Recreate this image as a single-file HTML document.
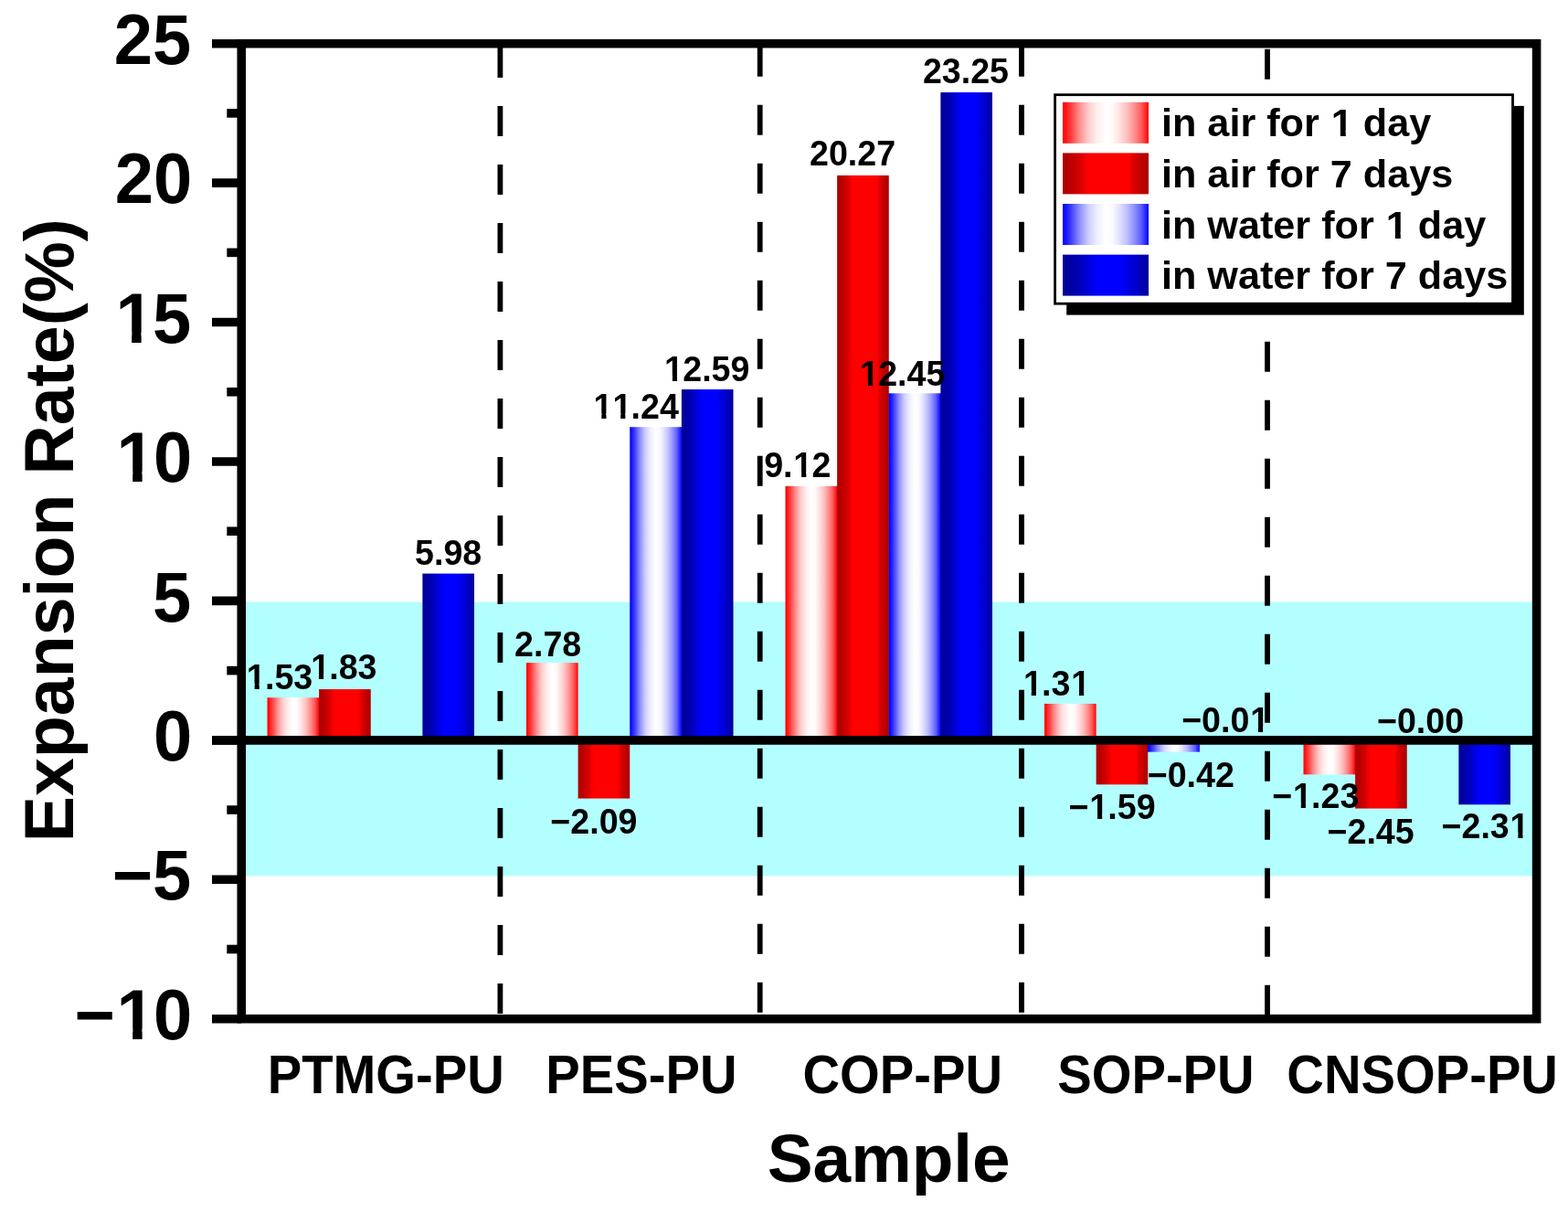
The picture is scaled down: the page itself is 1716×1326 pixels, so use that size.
<!DOCTYPE html><html><head><meta charset="utf-8"><title>Expansion Rate</title>
<style>html,body{margin:0;padding:0;background:#fff;}svg{display:block;}</style></head><body>
<svg width="1716" height="1326" viewBox="0 0 1716 1326">
<defs>
<linearGradient id="g1" x1="0" y1="0" x2="1" y2="0"><stop offset="0.000" stop-color="rgb(255,0,0)"/><stop offset="0.030" stop-color="rgb(255,15,15)"/><stop offset="0.100" stop-color="rgb(255,65,65)"/><stop offset="0.200" stop-color="rgb(255,145,145)"/><stop offset="0.300" stop-color="rgb(255,205,205)"/><stop offset="0.400" stop-color="rgb(255,238,238)"/><stop offset="0.500" stop-color="rgb(255,255,255)"/><stop offset="0.580" stop-color="rgb(255,250,250)"/><stop offset="0.660" stop-color="rgb(255,225,225)"/><stop offset="0.750" stop-color="rgb(255,190,190)"/><stop offset="0.830" stop-color="rgb(255,145,145)"/><stop offset="0.910" stop-color="rgb(255,95,95)"/><stop offset="0.970" stop-color="rgb(255,35,35)"/><stop offset="1.000" stop-color="rgb(255,0,0)"/></linearGradient>
<linearGradient id="g2" x1="0" y1="0" x2="1" y2="0"><stop offset="0.000" stop-color="rgb(172,0,0)"/><stop offset="0.060" stop-color="rgb(180,0,0)"/><stop offset="0.130" stop-color="rgb(195,0,0)"/><stop offset="0.200" stop-color="rgb(215,0,0)"/><stop offset="0.260" stop-color="rgb(240,0,0)"/><stop offset="0.300" stop-color="rgb(255,0,0)"/><stop offset="0.770" stop-color="rgb(255,0,0)"/><stop offset="0.810" stop-color="rgb(225,0,0)"/><stop offset="0.890" stop-color="rgb(200,0,0)"/><stop offset="0.960" stop-color="rgb(180,0,0)"/><stop offset="1.000" stop-color="rgb(172,0,0)"/></linearGradient>
<linearGradient id="g3" x1="0" y1="0" x2="1" y2="0"><stop offset="0.000" stop-color="rgb(0,0,255)"/><stop offset="0.030" stop-color="rgb(15,15,255)"/><stop offset="0.100" stop-color="rgb(65,65,255)"/><stop offset="0.200" stop-color="rgb(145,145,255)"/><stop offset="0.300" stop-color="rgb(205,205,255)"/><stop offset="0.400" stop-color="rgb(238,238,255)"/><stop offset="0.500" stop-color="rgb(255,255,255)"/><stop offset="0.580" stop-color="rgb(250,250,255)"/><stop offset="0.660" stop-color="rgb(225,225,255)"/><stop offset="0.750" stop-color="rgb(190,190,255)"/><stop offset="0.830" stop-color="rgb(145,145,255)"/><stop offset="0.910" stop-color="rgb(95,95,255)"/><stop offset="0.970" stop-color="rgb(35,35,255)"/><stop offset="1.000" stop-color="rgb(0,0,255)"/></linearGradient>
<linearGradient id="g4" x1="0" y1="0" x2="1" y2="0"><stop offset="0.000" stop-color="rgb(0,0,150)"/><stop offset="0.110" stop-color="rgb(0,0,165)"/><stop offset="0.210" stop-color="rgb(0,0,190)"/><stop offset="0.310" stop-color="rgb(0,0,225)"/><stop offset="0.400" stop-color="rgb(0,0,255)"/><stop offset="0.670" stop-color="rgb(0,0,255)"/><stop offset="0.750" stop-color="rgb(0,0,230)"/><stop offset="0.870" stop-color="rgb(0,0,200)"/><stop offset="1.000" stop-color="rgb(0,0,150)"/></linearGradient>
</defs>
<rect x="0" y="0" width="1716" height="1326" fill="#fff"/>
<rect x="264.25" y="658.6" width="1417.35" height="299.69999999999993" fill="#B3FFFF"/>
<line x1="547.4" y1="52" x2="547.4" y2="1110" stroke="#000" stroke-width="5.8" stroke-dasharray="33 31"/>
<line x1="831.7" y1="50.7" x2="831.7" y2="1110" stroke="#000" stroke-width="5.8" stroke-dasharray="33 31"/>
<line x1="1118" y1="50.7" x2="1118" y2="1110" stroke="#000" stroke-width="5.8" stroke-dasharray="33 31"/>
<line x1="1387" y1="53.7" x2="1387" y2="1110" stroke="#000" stroke-width="5.8" stroke-dasharray="33 31"/>
<rect x="348.625" y="763.21" width="1.2" height="46.64" fill="rgb(255,0,0)"/>
<rect x="292.500" y="763.21" width="56.625" height="46.64" fill="url(#g1)"/>
<rect x="349.125" y="754.06" width="56.625" height="55.79" fill="url(#g2)"/>
<rect x="462.375" y="627.54" width="56.625" height="182.31" fill="url(#g4)"/>
<rect x="576.000" y="725.10" width="56.625" height="84.75" fill="url(#g1)"/>
<rect x="632.625" y="809.85" width="56.625" height="63.72" fill="url(#g2)"/>
<rect x="745.375" y="467.19" width="1.2" height="342.66" fill="rgb(0,0,255)"/>
<rect x="689.250" y="467.19" width="56.625" height="342.66" fill="url(#g3)"/>
<rect x="745.875" y="426.03" width="56.625" height="383.82" fill="url(#g4)"/>
<rect x="915.625" y="531.82" width="1.2" height="278.03" fill="rgb(255,0,0)"/>
<rect x="859.500" y="531.82" width="56.625" height="278.03" fill="url(#g1)"/>
<rect x="972.250" y="430.30" width="1.2" height="379.55" fill="rgb(172,0,0)"/>
<rect x="916.125" y="191.90" width="56.625" height="617.95" fill="url(#g2)"/>
<rect x="1028.875" y="430.30" width="1.2" height="379.55" fill="rgb(0,0,255)"/>
<rect x="972.750" y="430.30" width="56.625" height="379.55" fill="url(#g3)"/>
<rect x="1029.375" y="101.05" width="56.625" height="708.80" fill="url(#g4)"/>
<rect x="1143.000" y="769.91" width="56.625" height="39.94" fill="url(#g1)"/>
<rect x="1255.750" y="809.85" width="1.2" height="12.80" fill="rgb(172,0,0)"/>
<rect x="1199.625" y="809.85" width="56.625" height="48.47" fill="url(#g2)"/>
<rect x="1256.250" y="809.85" width="56.625" height="12.80" fill="url(#g3)"/>
<rect x="1312.875" y="809.85" width="56.625" height="0.30" fill="url(#g4)"/>
<rect x="1482.625" y="809.85" width="1.2" height="37.50" fill="rgb(255,0,0)"/>
<rect x="1426.500" y="809.85" width="56.625" height="37.50" fill="url(#g1)"/>
<rect x="1483.125" y="809.85" width="56.625" height="74.69" fill="url(#g2)"/>
<rect x="1596.375" y="809.85" width="56.625" height="70.42" fill="url(#g4)"/>
<line x1="232" y1="809.85" x2="1681.6" y2="809.85" stroke="#000" stroke-width="9.8"/>
<rect x="264.25" y="47.7" width="1417.35" height="1067.0" fill="none" stroke="#000" stroke-width="9.6" stroke-linejoin="miter"/>
<line x1="232" y1="1114.71" x2="264.25" y2="1114.71" stroke="#000" stroke-width="9.6"/>
<line x1="232" y1="962.28" x2="264.25" y2="962.28" stroke="#000" stroke-width="9.6"/>
<line x1="232" y1="809.85" x2="264.25" y2="809.85" stroke="#000" stroke-width="9.6"/>
<line x1="232" y1="657.42" x2="264.25" y2="657.42" stroke="#000" stroke-width="9.6"/>
<line x1="232" y1="504.99" x2="264.25" y2="504.99" stroke="#000" stroke-width="9.6"/>
<line x1="232" y1="352.56" x2="264.25" y2="352.56" stroke="#000" stroke-width="9.6"/>
<line x1="232" y1="200.13" x2="264.25" y2="200.13" stroke="#000" stroke-width="9.6"/>
<line x1="232" y1="47.70" x2="264.25" y2="47.70" stroke="#000" stroke-width="9.6"/>
<line x1="248.3" y1="1038.50" x2="264.25" y2="1038.50" stroke="#000" stroke-width="9.6"/>
<line x1="248.3" y1="886.07" x2="264.25" y2="886.07" stroke="#000" stroke-width="9.6"/>
<line x1="248.3" y1="733.63" x2="264.25" y2="733.63" stroke="#000" stroke-width="9.6"/>
<line x1="248.3" y1="581.21" x2="264.25" y2="581.21" stroke="#000" stroke-width="9.6"/>
<line x1="248.3" y1="428.78" x2="264.25" y2="428.78" stroke="#000" stroke-width="9.6"/>
<line x1="248.3" y1="276.35" x2="264.25" y2="276.35" stroke="#000" stroke-width="9.6"/>
<line x1="248.3" y1="123.91" x2="264.25" y2="123.91" stroke="#000" stroke-width="9.6"/>
<text transform="translate(81.40 1136.91) scale(1 1.0200)" font-family="Liberation Sans, Arial, sans-serif" font-weight="bold" style="font-kerning:none" font-size="76.00" clip-path="url(#c1)" >−<tspan dx="1.67">1</tspan><tspan dx="-1.67">0</tspan></text>
<text transform="translate(122.66 984.48) scale(1 1.0200)" font-family="Liberation Sans, Arial, sans-serif" font-weight="bold" style="font-kerning:none" font-size="76.00" >−5</text>
<text transform="translate(168.05 832.05) scale(1 1.0200)" font-family="Liberation Sans, Arial, sans-serif" font-weight="bold" style="font-kerning:none" font-size="76.00" >0</text>
<text transform="translate(167.05 679.62) scale(1 1.0200)" font-family="Liberation Sans, Arial, sans-serif" font-weight="bold" style="font-kerning:none" font-size="76.00" >5</text>
<text transform="translate(125.78 527.19) scale(1 1.0200)" font-family="Liberation Sans, Arial, sans-serif" font-weight="bold" style="font-kerning:none" font-size="76.00" clip-path="url(#c2)" ><tspan dx="1.67">1</tspan><tspan dx="-1.67">0</tspan></text>
<text transform="translate(124.78 374.76) scale(1 1.0200)" font-family="Liberation Sans, Arial, sans-serif" font-weight="bold" style="font-kerning:none" font-size="76.00" clip-path="url(#c3)" ><tspan dx="1.67">1</tspan><tspan dx="-1.67">5</tspan></text>
<text transform="translate(125.78 222.33) scale(1 1.0200)" font-family="Liberation Sans, Arial, sans-serif" font-weight="bold" style="font-kerning:none" font-size="76.00" >20</text>
<text transform="translate(124.78 69.90) scale(1 1.0200)" font-family="Liberation Sans, Arial, sans-serif" font-weight="bold" style="font-kerning:none" font-size="76.00" >25</text>
<text transform="translate(269.04 753.50) scale(1 1.0300)" font-family="Liberation Sans, Arial, sans-serif" font-weight="bold" style="font-kerning:none" font-size="37.60" clip-path="url(#c4)" ><tspan dx="0.83">1</tspan><tspan dx="-0.83">.</tspan>53</text>
<text transform="translate(339.34 743.20) scale(1 1.0300)" font-family="Liberation Sans, Arial, sans-serif" font-weight="bold" style="font-kerning:none" font-size="37.60" clip-path="url(#c5)" ><tspan dx="0.83">1</tspan><tspan dx="-0.83">.</tspan>83</text>
<text transform="translate(454.11 617.70) scale(1 1.0300)" font-family="Liberation Sans, Arial, sans-serif" font-weight="bold" style="font-kerning:none" font-size="37.60" >5.98</text>
<text transform="translate(563.09 718.10) scale(1 1.0300)" font-family="Liberation Sans, Arial, sans-serif" font-weight="bold" style="font-kerning:none" font-size="37.60" >2.78</text>
<text transform="translate(602.35 912.30) scale(1 1.0300)" font-family="Liberation Sans, Arial, sans-serif" font-weight="bold" style="font-kerning:none" font-size="37.60" >−2.09</text>
<text transform="translate(648.71 458.00) scale(1 1.0300)" font-family="Liberation Sans, Arial, sans-serif" font-weight="bold" style="font-kerning:none" font-size="37.60" clip-path="url(#c6)" ><tspan dx="0.83">1</tspan><tspan dx="0.00">1</tspan><tspan dx="-0.83">.</tspan>24</text>
<text transform="translate(726.30 416.50) scale(1 1.0300)" font-family="Liberation Sans, Arial, sans-serif" font-weight="bold" style="font-kerning:none" font-size="37.60" clip-path="url(#c7)" ><tspan dx="0.83">1</tspan><tspan dx="-0.83">2</tspan>.59</text>
<text transform="translate(836.16 522.10) scale(1 1.0300)" font-family="Liberation Sans, Arial, sans-serif" font-weight="bold" style="font-kerning:none" font-size="37.60" clip-path="url(#c8)" >9.<tspan dx="0.83">1</tspan><tspan dx="-0.83">2</tspan></text>
<text transform="translate(886.03 181.00) scale(1 1.0300)" font-family="Liberation Sans, Arial, sans-serif" font-weight="bold" style="font-kerning:none" font-size="37.60" >20.27</text>
<text transform="translate(940.28 422.30) scale(1 1.0300)" font-family="Liberation Sans, Arial, sans-serif" font-weight="bold" style="font-kerning:none" font-size="37.60" clip-path="url(#c9)" ><tspan dx="0.83">1</tspan><tspan dx="-0.83">2</tspan>.45</text>
<text transform="translate(1009.93 91.20) scale(1 1.0300)" font-family="Liberation Sans, Arial, sans-serif" font-weight="bold" style="font-kerning:none" font-size="37.60" >23.25</text>
<text transform="translate(1119.14 760.60) scale(1 1.0300)" font-family="Liberation Sans, Arial, sans-serif" font-weight="bold" style="font-kerning:none" font-size="37.60" clip-path="url(#c10)" ><tspan dx="0.83">1</tspan><tspan dx="-0.83">.</tspan>3<tspan dx="0.83">1</tspan></text>
<text transform="translate(1293.13 800.70) scale(1 1.0300)" font-family="Liberation Sans, Arial, sans-serif" font-weight="bold" style="font-kerning:none" font-size="37.60" clip-path="url(#c11)" >−0.0<tspan dx="0.83">1</tspan></text>
<text transform="translate(1255.70 861.30) scale(1 1.0300)" font-family="Liberation Sans, Arial, sans-serif" font-weight="bold" style="font-kerning:none" font-size="37.60" >−0.42</text>
<text transform="translate(1169.45 896.30) scale(1 1.0300)" font-family="Liberation Sans, Arial, sans-serif" font-weight="bold" style="font-kerning:none" font-size="37.60" clip-path="url(#c12)" >−<tspan dx="0.83">1</tspan><tspan dx="-0.83">.</tspan>59</text>
<text transform="translate(1506.97 801.50) scale(1 1.0300)" font-family="Liberation Sans, Arial, sans-serif" font-weight="bold" style="font-kerning:none" font-size="37.60" >−0.00</text>
<text transform="translate(1392.23 883.70) scale(1 1.0300)" font-family="Liberation Sans, Arial, sans-serif" font-weight="bold" style="font-kerning:none" font-size="37.60" clip-path="url(#c13)" >−<tspan dx="0.83">1</tspan><tspan dx="-0.83">.</tspan>23</text>
<text transform="translate(1452.52 922.50) scale(1 1.0300)" font-family="Liberation Sans, Arial, sans-serif" font-weight="bold" style="font-kerning:none" font-size="37.60" >−2.45</text>
<text transform="translate(1577.53 917.20) scale(1 1.0300)" font-family="Liberation Sans, Arial, sans-serif" font-weight="bold" style="font-kerning:none" font-size="37.60" clip-path="url(#c14)" >−2.3<tspan dx="0.83">1</tspan></text>
<text transform="translate(292.72 1196.10) scale(1 1.0400)" font-family="Liberation Sans, Arial, sans-serif" font-weight="bold" style="font-kerning:none" font-size="56.20" >PTMG-PU</text>
<text transform="translate(597.36 1196.10) scale(1 1.0400)" font-family="Liberation Sans, Arial, sans-serif" font-weight="bold" style="font-kerning:none" font-size="56.20" >PES-PU</text>
<text transform="translate(878.48 1196.10) scale(1 1.0400)" font-family="Liberation Sans, Arial, sans-serif" font-weight="bold" style="font-kerning:none" font-size="56.20" >COP-PU</text>
<text transform="translate(1157.22 1196.10) scale(1 1.0400)" font-family="Liberation Sans, Arial, sans-serif" font-weight="bold" style="font-kerning:none" font-size="56.20" >SOP-PU</text>
<text transform="translate(1408.34 1196.10) scale(1 1.0400)" font-family="Liberation Sans, Arial, sans-serif" font-weight="bold" style="font-kerning:none" font-size="56.20" >CNSOP-PU</text>
<text transform="translate(839.75 1293.40) scale(1 1.0000)" font-family="Liberation Sans, Arial, sans-serif" font-weight="bold" style="font-kerning:none" font-size="74.78" >Sample</text>
<text transform="translate(79.9 921.24) rotate(-90)" font-family="Liberation Sans, Arial, sans-serif" font-weight="bold" style="font-kerning:none" font-size="75.31">Expansion Rate(%)</text>
<rect x="1167.2" y="115.9" width="500.6" height="228.7" fill="#000"/>
<rect x="1154.6" y="103.7" width="500.9" height="228.5" fill="#fff" stroke="#000" stroke-width="2.8"/>
<rect x="1163" y="111.8" width="94" height="45" fill="url(#g1)"/>
<text transform="translate(1270.98 149.30) scale(1 1.0000)" font-family="Liberation Sans, Arial, sans-serif" font-weight="bold" style="font-kerning:none" font-size="43.20" clip-path="url(#c15)" >in air for <tspan dx="0.95">1</tspan><tspan dx="-0.95"> </tspan>day</text>
<rect x="1163" y="167.4" width="94" height="45" fill="url(#g2)"/>
<text transform="translate(1270.98 204.90) scale(1 1.0000)" font-family="Liberation Sans, Arial, sans-serif" font-weight="bold" style="font-kerning:none" font-size="43.20" >in air for 7 days</text>
<rect x="1163" y="223.0" width="94" height="45" fill="url(#g3)"/>
<text transform="translate(1270.98 260.50) scale(1 1.0000)" font-family="Liberation Sans, Arial, sans-serif" font-weight="bold" style="font-kerning:none" font-size="43.20" clip-path="url(#c16)" >in water for <tspan dx="0.95">1</tspan><tspan dx="-0.95"> </tspan>day</text>
<rect x="1163" y="278.6" width="94" height="45" fill="url(#g4)"/>
<text transform="translate(1270.98 316.10) scale(1 1.0000)" font-family="Liberation Sans, Arial, sans-serif" font-weight="bold" style="font-kerning:none" font-size="43.20" >in water for 7 days</text>
<defs><clipPath id="c1" clipPathUnits="userSpaceOnUse"><path clip-rule="evenodd" d="M-76.00 -152.00H204.92V76.00H-76.00ZM49.17 -11.13H63.79V2.23H49.17ZM74.22 -11.13H87.88V2.23H74.22Z"/></clipPath><clipPath id="c2" clipPathUnits="userSpaceOnUse"><path clip-rule="evenodd" d="M-76.00 -152.00H160.54V76.00H-76.00ZM4.79 -11.13H19.41V2.23H4.79ZM29.84 -11.13H43.49V2.23H29.84Z"/></clipPath><clipPath id="c3" clipPathUnits="userSpaceOnUse"><path clip-rule="evenodd" d="M-76.00 -152.00H160.54V76.00H-76.00ZM4.79 -11.13H19.41V2.23H4.79ZM29.84 -11.13H43.49V2.23H29.84Z"/></clipPath><clipPath id="c4" clipPathUnits="userSpaceOnUse"><path clip-rule="evenodd" d="M-37.60 -75.20H110.78V37.60H-37.60ZM2.37 -5.51H9.60V1.10H2.37ZM14.76 -5.51H21.52V1.10H14.76Z"/></clipPath><clipPath id="c5" clipPathUnits="userSpaceOnUse"><path clip-rule="evenodd" d="M-37.60 -75.20H110.78V37.60H-37.60ZM2.37 -5.51H9.60V1.10H2.37ZM14.76 -5.51H21.52V1.10H14.76Z"/></clipPath><clipPath id="c6" clipPathUnits="userSpaceOnUse"><path clip-rule="evenodd" d="M-37.60 -75.20H131.69V37.60H-37.60ZM2.37 -5.51H9.60V1.10H2.37ZM14.76 -5.51H21.52V1.10H14.76ZM23.28 -5.51H30.51V1.10H23.28ZM35.67 -5.51H42.43V1.10H35.67Z"/></clipPath><clipPath id="c7" clipPathUnits="userSpaceOnUse"><path clip-rule="evenodd" d="M-37.60 -75.20H131.69V37.60H-37.60ZM2.37 -5.51H9.60V1.10H2.37ZM14.76 -5.51H21.52V1.10H14.76Z"/></clipPath><clipPath id="c8" clipPathUnits="userSpaceOnUse"><path clip-rule="evenodd" d="M-37.60 -75.20H110.78V37.60H-37.60ZM33.73 -5.51H40.96V1.10H33.73ZM46.12 -5.51H52.88V1.10H46.12Z"/></clipPath><clipPath id="c9" clipPathUnits="userSpaceOnUse"><path clip-rule="evenodd" d="M-37.60 -75.20H131.69V37.60H-37.60ZM2.37 -5.51H9.60V1.10H2.37ZM14.76 -5.51H21.52V1.10H14.76Z"/></clipPath><clipPath id="c10" clipPathUnits="userSpaceOnUse"><path clip-rule="evenodd" d="M-37.60 -75.20H110.78V37.60H-37.60ZM2.37 -5.51H9.60V1.10H2.37ZM14.76 -5.51H21.52V1.10H14.76ZM54.64 -5.51H61.87V1.10H54.64ZM67.03 -5.51H73.79V1.10H67.03Z"/></clipPath><clipPath id="c11" clipPathUnits="userSpaceOnUse"><path clip-rule="evenodd" d="M-37.60 -75.20H132.74V37.60H-37.60ZM76.60 -5.51H83.83V1.10H76.60ZM88.99 -5.51H95.74V1.10H88.99Z"/></clipPath><clipPath id="c12" clipPathUnits="userSpaceOnUse"><path clip-rule="evenodd" d="M-37.60 -75.20H132.74V37.60H-37.60ZM24.33 -5.51H31.56V1.10H24.33ZM36.72 -5.51H43.48V1.10H36.72Z"/></clipPath><clipPath id="c13" clipPathUnits="userSpaceOnUse"><path clip-rule="evenodd" d="M-37.60 -75.20H132.74V37.60H-37.60ZM24.33 -5.51H31.56V1.10H24.33ZM36.72 -5.51H43.48V1.10H36.72Z"/></clipPath><clipPath id="c14" clipPathUnits="userSpaceOnUse"><path clip-rule="evenodd" d="M-37.60 -75.20H132.74V37.60H-37.60ZM76.60 -5.51H83.83V1.10H76.60ZM88.99 -5.51H95.74V1.10H88.99Z"/></clipPath><clipPath id="c15" clipPathUnits="userSpaceOnUse"><path clip-rule="evenodd" d="M-43.20 -86.40H338.49V43.20H-43.20ZM187.54 -6.33H195.86V1.27H187.54ZM201.78 -6.33H209.55V1.27H201.78Z"/></clipPath><clipPath id="c16" clipPathUnits="userSpaceOnUse"><path clip-rule="evenodd" d="M-43.20 -86.40H398.50V43.20H-43.20ZM247.56 -6.33H255.87V1.27H247.56ZM261.79 -6.33H269.56V1.27H261.79Z"/></clipPath></defs>
</svg></body></html>
